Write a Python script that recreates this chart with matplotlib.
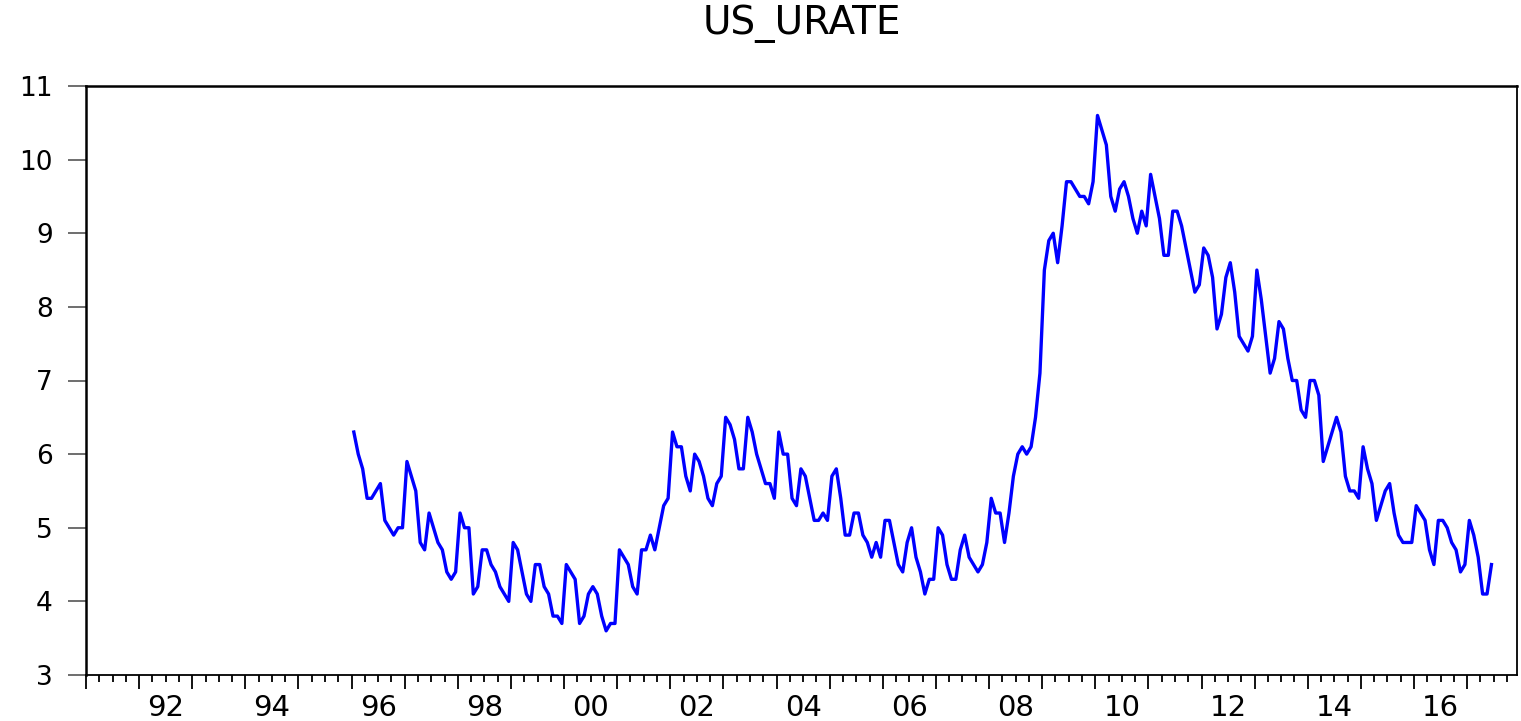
import matplotlib
matplotlib.use("Agg")
import matplotlib.pyplot as plt
import numpy as np

# monthly US unemployment rate (not seasonally adjusted), Jan 1996 .. Jun 2017
start_year = 1996
urate = [
    6.3, 6.0, 5.8, 5.4, 5.4, 5.5, 5.6, 5.1, 5.0, 4.9, 5.0, 5.0,   # 1996
    5.9, 5.7, 5.5, 4.8, 4.7, 5.2, 5.0, 4.8, 4.7, 4.4, 4.3, 4.4,   # 1997
    5.2, 5.0, 5.0, 4.1, 4.2, 4.7, 4.7, 4.5, 4.4, 4.2, 4.1, 4.0,   # 1998
    4.8, 4.7, 4.4, 4.1, 4.0, 4.5, 4.5, 4.2, 4.1, 3.8, 3.8, 3.7,   # 1999
    4.5, 4.4, 4.3, 3.7, 3.8, 4.1, 4.2, 4.1, 3.8, 3.6, 3.7, 3.7,   # 2000
    4.7, 4.6, 4.5, 4.2, 4.1, 4.7, 4.7, 4.9, 4.7, 5.0, 5.3, 5.4,   # 2001
    6.3, 6.1, 6.1, 5.7, 5.5, 6.0, 5.9, 5.7, 5.4, 5.3, 5.6, 5.7,   # 2002
    6.5, 6.4, 6.2, 5.8, 5.8, 6.5, 6.3, 6.0, 5.8, 5.6, 5.6, 5.4,   # 2003
    6.3, 6.0, 6.0, 5.4, 5.3, 5.8, 5.7, 5.4, 5.1, 5.1, 5.2, 5.1,   # 2004
    5.7, 5.8, 5.4, 4.9, 4.9, 5.2, 5.2, 4.9, 4.8, 4.6, 4.8, 4.6,   # 2005
    5.1, 5.1, 4.8, 4.5, 4.4, 4.8, 5.0, 4.6, 4.4, 4.1, 4.3, 4.3,   # 2006
    5.0, 4.9, 4.5, 4.3, 4.3, 4.7, 4.9, 4.6, 4.5, 4.4, 4.5, 4.8,   # 2007
    5.4, 5.2, 5.2, 4.8, 5.2, 5.7, 6.0, 6.1, 6.0, 6.1, 6.5, 7.1,   # 2008
    8.5, 8.9, 9.0, 8.6, 9.1, 9.7, 9.7, 9.6, 9.5, 9.5, 9.4, 9.7,   # 2009
    10.6, 10.4, 10.2, 9.5, 9.3, 9.6, 9.7, 9.5, 9.2, 9.0, 9.3, 9.1,  # 2010
    9.8, 9.5, 9.2, 8.7, 8.7, 9.3, 9.3, 9.1, 8.8, 8.5, 8.2, 8.3,   # 2011
    8.8, 8.7, 8.4, 7.7, 7.9, 8.4, 8.6, 8.2, 7.6, 7.5, 7.4, 7.6,   # 2012
    8.5, 8.1, 7.6, 7.1, 7.3, 7.8, 7.7, 7.3, 7.0, 7.0, 6.6, 6.5,   # 2013
    7.0, 7.0, 6.8, 5.9, 6.1, 6.3, 6.5, 6.3, 5.7, 5.5, 5.5, 5.4,   # 2014
    6.1, 5.8, 5.6, 5.1, 5.3, 5.5, 5.6, 5.2, 4.9, 4.8, 4.8, 4.8,   # 2015
    5.3, 5.2, 5.1, 4.7, 4.5, 5.1, 5.1, 5.0, 4.8, 4.7, 4.4, 4.5,   # 2016
    5.1, 4.9, 4.6, 4.1, 4.1, 4.5,                                 # 2017
]
label_years = [1992, 1994, 1996, 1998, 2000, 2002, 2004, 2006, 2008, 2010, 2012, 2014, 2016]
yticks = [3, 4, 5, 6, 7, 8, 9, 10, 11]

# each month sits in the middle of its slot
t = start_year + (np.arange(len(urate)) + 0.5) / 12.0

W, H = 1521, 721
fig = plt.figure(figsize=(W / 100, H / 100), dpi=100)
left, right, top, bottom = 86, 1517, 86, 675
ax = fig.add_axes([left / W, 1 - bottom / H, (right - left) / W, (bottom - top) / H])

ax.plot(t, urate, color="#0000ff", linewidth=2.4)

ax.set_xlim(1991, 1991 + (right - left) / 53.12)
ax.set_ylim(3, 11)

# y axis
ax.set_yticks(yticks)
ax.tick_params(axis="y", direction="out", length=13, width=1.2, color="#555555",
               labelsize=19, pad=11, right=False)

# x axis: year boundaries major, quarters minor, no labels on those
ax.set_xticks(np.arange(1991, 2018))
ax.set_xticklabels([])
ax.set_xticks(np.arange(1991, 2018, 0.25), minor=True)
ax.tick_params(axis="x", which="major", direction="out", length=10, width=1.3, color="black")
ax.tick_params(axis="x", which="minor", direction="out", length=5, width=1.3, color="black")

# year labels centered in the year
sec = ax.secondary_xaxis("bottom")
sec.set_xticks([y + 0.5 for y in label_years])
sec.set_xticklabels([str(y)[2:] for y in label_years])
sec.tick_params(length=0, labelsize=21, pad=14)
sec.spines["bottom"].set_visible(False)

for s in ["left", "top"]:
    ax.spines[s].set_linewidth(1.8)
for s in ["right", "bottom"]:
    ax.spines[s].set_linewidth(1.3)

fig.text((left + right) / 2 / W, 1 - 24 / H, "US_URATE", ha="center", va="center", fontsize=28)

fig.savefig("out.png", dpi=100)
